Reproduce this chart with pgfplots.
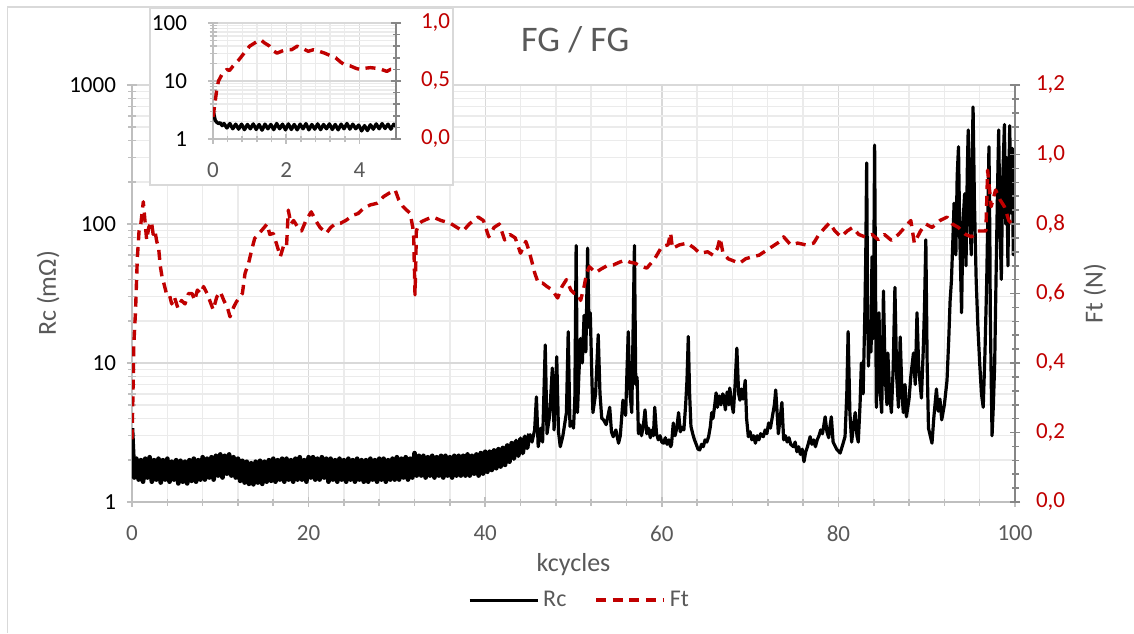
\documentclass[border=0pt]{standalone}
\usepackage{fontspec}
\setmainfont{Carlito}
\usepackage{pgfplots}
\pgfplotsset{compat=1.18}
\pgfplotsset{/pgf/number format/assume math mode=true}
\definecolor{ftred}{HTML}{C00000}
\definecolor{txtgray}{HTML}{595959}
\definecolor{gridc}{HTML}{D9D9D9}
\definecolor{gridm}{HTML}{EBEBEB}
\definecolor{axisc}{HTML}{BFBFBF}
\definecolor{axisr}{HTML}{868686}
\pgfplotsset{
  commonax/.style={
    scale only axis,
    tick align=center,
    major tick length=5pt,
    minor tick length=3.5pt,
    ticklabel style={font=\fontsize{11.5}{13}\selectfont},
    xticklabel style={yshift=-6pt},
  },
}
\begin{document}
\begin{tikzpicture}
\useasboundingbox (0pt,0pt) rectangle (567pt,316.5pt);
\draw[gridc, line width=0.7pt] (3.75pt,0pt) -- (3.75pt,313pt) -- (567pt,313pt);
% ---------------- main axis, left
\begin{axis}[commonax,
  at={(66pt,65.5pt)}, anchor=south west, width=441.5pt, height=208.5pt,
  xmin=0, xmax=100, ymode=log, ymin=1, ymax=1000,
  axis x line*=bottom, axis y line*=left,
  axis line style={axisc, line width=0.8pt},
  tick style={axisc, line width=0.8pt},
  xtick={0,20,40,60,80,100}, minor x tick num=4,
  grid=both,
  major grid style={gridc, line width=0.7pt},
  minor grid style={gridm, line width=0.7pt},
  log ticks with fixed point, /pgf/number format/1000 sep={},
  xticklabel style={txtgray},
  yticklabel style={black, xshift=-2pt},
  xlabel={kcycles}, ylabel={Rc (mΩ)},
  label style={font=\fontsize{13}{15}\selectfont, text=txtgray},
  xlabel style={at={(axis description cs:0.5,-0.151)}, anchor=center},
  ylabel style={at={(axis description cs:-0.095,0.5)}, anchor=center},
  title={FG / FG},
  title style={at={(axis description cs:0.502,1.079)}, anchor=center, font=\fontsize{18}{20}\selectfont, text=txtgray},
]
% low, noisy part of Rc (0-45 kcycles)
\addplot[black, line width=2.3pt, line join=round] table {
0 3.4
0.08 2.6
0.15 2.1
0.25 1.5
0.5 2.05
0.75 1.45
1.0 2.0
1.25 1.4
1.5 2.05
1.75 1.5
2.0 2.1
2.25 1.4
2.5 2.0
2.75 1.45
3.0 2.05
3.25 1.38
3.5 2.0
3.75 1.45
4.0 2.05
4.25 1.4
4.5 1.95
4.75 1.45
5.0 2.0
5.25 1.36
5.5 1.98
5.75 1.4
6.0 1.95
6.25 1.36
6.5 2.0
6.75 1.42
7.0 2.05
7.25 1.4
7.5 2.0
7.75 1.45
8.0 2.1
8.25 1.45
8.5 2.05
8.75 1.5
9.0 2.1
9.25 1.45
9.5 2.15
9.75 1.55
10.0 2.2
10.25 1.5
10.5 2.15
10.75 1.6
11.0 2.2
11.25 1.55
11.5 2.1
11.75 1.5
12.0 2.05
12.25 1.42
12.5 1.98
12.75 1.38
13.0 1.95
13.25 1.35
13.5 1.9
13.75 1.34
14.0 1.95
14.25 1.38
14.5 1.98
14.75 1.35
15.0 1.95
15.25 1.4
15.5 2.0
15.75 1.42
16.0 2.05
16.25 1.4
16.5 2.0
16.75 1.45
17.0 2.05
17.25 1.4
17.5 2.05
17.75 1.45
18.0 2.0
18.25 1.4
18.5 2.05
18.75 1.45
19.0 2.1
19.25 1.45
19.5 2.0
19.75 1.4
20.0 2.1
20.25 1.5
20.5 2.1
20.75 1.45
21.0 2.05
21.25 1.45
21.5 2.1
21.75 1.5
22.0 2.05
22.25 1.4
22.5 2.05
22.75 1.45
23.0 2.0
23.25 1.4
23.5 2.05
23.75 1.45
24.0 2.0
24.25 1.4
24.5 2.05
24.75 1.45
25.0 2.0
25.25 1.4
25.5 2.05
25.75 1.45
26.0 2.0
26.25 1.4
26.5 2.0
26.75 1.4
27.0 2.05
27.25 1.45
27.5 2.0
27.75 1.4
28.0 2.05
28.25 1.45
28.5 2.05
28.75 1.4
29.0 2.0
29.25 1.45
29.5 2.05
29.75 1.45
30.0 2.1
30.25 1.45
30.5 2.05
30.75 1.5
31.0 2.1
31.25 1.45
31.5 2.05
31.75 1.5
32.0 2.25
32.25 1.55
32.5 2.15
32.75 1.55
33.0 2.15
33.25 1.5
33.5 2.1
33.75 1.55
34.0 2.15
34.25 1.5
34.5 2.1
34.75 1.55
35.0 2.15
35.25 1.5
35.5 2.15
35.75 1.55
36.0 2.1
36.25 1.5
36.5 2.15
36.75 1.55
37.0 2.15
37.25 1.55
37.5 2.15
37.75 1.55
38.0 2.2
38.25 1.55
38.5 2.15
38.75 1.6
39.0 2.2
39.25 1.55
39.5 2.25
39.75 1.6
40.0 2.3
40.25 1.65
40.5 2.3
40.75 1.7
41.0 2.35
41.25 1.75
41.5 2.4
41.75 1.8
42.0 2.45
42.25 1.85
42.5 2.55
42.75 1.95
43.0 2.65
43.25 2.05
43.5 2.75
43.75 2.15
44.0 2.85
44.25 2.25
44.5 2.95
44.75 2.45
45.0 3.1
};
% spiky part of Rc (45-100 kcycles)
\addplot[black, line width=1.6pt, line join=round] table {
45.0 3.1
45.3 2.7
45.6 3.3
45.8 5.7
46.0 2.5
46.3 3.4
46.5 2.7
46.8 13.5
47.0 3.1
47.3 4.2
47.6 9.2
47.8 3.3
48.1 11.1
48.3 3.2
48.5 2.5
48.8 3.0
49.2 4.4
49.4 16.8
49.6 3.5
49.8 3.8
50.0 3.4
50.15 5.5
50.3 70
50.45 4.4
50.6 8
50.8 15
51.0 10
51.2 22
51.4 12
51.6 67
51.75 18
51.9 23
52.1 7
52.2 4.4
52.5 6
52.8 16
53.0 6
53.2 4.0
53.4 3.9
53.7 3.6
54.1 4.8
54.3 3.2
54.5 2.95
54.8 3.3
55.1 2.65
55.3 3.0
55.6 5.4
55.9 4.2
56.2 16.8
56.4 6
56.6 4.4
56.9 70
57.05 7
57.2 7.9
57.35 3.1
57.5 3.6
57.7 3.0
57.9 3.5
58.1 4.6
58.3 3.1
58.5 3.4
58.7 2.9
58.9 3.3
59.05 3.0
59.2 4.8
59.4 3.1
59.6 2.8
59.8 3.0
60.0 2.7
60.2 2.65
60.4 2.9
60.6 2.6
60.8 2.8
61.0 2.5
61.1 2.6
61.3 3.7
61.5 3.0
61.7 3.4
61.9 4.4
62.1 3.2
62.3 3.45
62.5 3.3
62.7 5
62.85 7.5
63.0 15.5
63.15 6
63.3 3.5
63.5 3.1
63.7 2.8
63.9 2.6
64.1 2.4
64.3 2.37
64.5 2.6
64.7 2.5
64.9 2.8
65.1 2.7
65.3 2.95
65.5 3.5
65.65 4.4
65.8 4.0
66.0 5
66.15 6.1
66.3 4.8
66.5 5.8
66.7 5.0
66.9 6.0
67.0 5.8
67.2 4.6
67.4 6.2
67.6 5.0
67.7 6.6
67.9 5.2
68.1 4.4
68.3 7
68.5 12.8
68.7 6
68.85 5.4
69.0 6.5
69.2 5.5
69.45 7.5
69.6 4
69.8 2.95
70.0 3.2
70.2 2.8
70.4 3.0
70.6 2.65
70.8 3.0
71.0 2.8
71.2 3.1
71.5 2.95
71.7 3.3
71.9 3.1
72.1 3.7
72.3 3.4
72.6 4.4
72.75 5
72.9 6.4
73.05 4.5
73.2 3.1
73.4 4
73.6 5.2
73.8 2.8
74.0 3.0
74.2 2.7
74.4 2.9
74.6 2.6
74.9 2.5
75.1 2.7
75.3 2.3
75.5 2.5
75.7 2.2
75.9 2.4
76.1 1.95
76.3 2.3
76.5 2.5
76.8 2.95
77.0 2.6
77.2 2.8
77.4 2.5
77.6 2.8
77.8 3.0
78.0 3.3
78.2 3.1
78.5 4.1
78.7 3.2
78.9 2.9
79.05 3.5
79.2 4.1
79.4 2.7
79.8 2.4
80.2 2.25
80.5 2.6
80.75 2.95
80.95 6
81.1 16.8
81.3 4.4
81.5 2.7
81.7 3.5
81.9 4.4
82.1 3.0
82.25 2.7
82.45 5
82.6 10
82.8 6
83.0 24
83.1 60
83.2 275
83.3 30
83.4 9.5
83.55 20
83.7 12
83.8 58
83.95 15
84.1 370
84.2 40
84.3 4.8
84.45 12
84.6 23
84.75 6
84.9 4.4
85.0 10
85.1 33
85.3 8
85.5 5
85.6 11.8
85.8 6
86.0 4.4
86.2 9
86.4 35
86.6 8
86.8 4.8
87.0 15.4
87.2 6
87.35 4.4
87.55 7
87.7 4.1
88.0 5.5
88.2 8
88.5 11.8
88.7 7
88.9 23
89.1 9
89.4 5.6
89.6 12
89.75 25
89.9 77
90.05 10
90.2 3.4
90.4 3.0
90.6 2.65
90.8 4
91.1 6.5
91.3 4.5
91.5 5.5
91.7 3.9
92.0 5
92.3 7.5
92.5 15
92.65 28
92.8 39
93.0 90
93.1 141
93.3 60
93.45 220
93.6 360
93.75 80
93.95 23
94.1 100
94.3 165
94.45 50
94.6 250
94.7 475
94.85 120
95.05 60
95.15 300
95.25 695
95.4 150
95.6 40
95.8 18
96.0 10
96.2 6
96.4 4.8
96.6 12
96.8 40
96.95 150
97.05 360
97.15 80
97.2 23
97.3 8
97.4 3.0
97.55 5
97.7 10
97.85 40
98.0 150
98.15 475
98.3 100
98.45 40
98.6 200
98.8 520
98.95 100
99.05 300
99.2 50
99.3 200
99.4 510
99.55 120
99.7 350
99.8 60
99.9 200
100 150
};
\end{axis}
% ---------------- main axis, right
\begin{axis}[commonax,
  at={(66pt,65.5pt)}, anchor=south west, width=441.5pt, height=208.5pt,
  xmin=0, xmax=100, ymin=0, ymax=1.2,
  axis x line=none, axis y line*=right,
  axis line style={axisr, line width=0.8pt},
  tick style={axisr, line width=0.8pt},
  ytick={0,0.2,0.4,0.6,0.8,1.0,1.2}, minor y tick num=4,
  yticklabel style={ftred, xshift=4.5pt, /pgf/number format/.cd, fixed, fixed zerofill, precision=1, use comma},
  ylabel={Ft (N)},
  label style={font=\fontsize{13}{15}\selectfont, text=txtgray},
  ylabel style={at={(axis description cs:1.0906,0.5)}, anchor=center},
  legend style={at={(axis description cs:0.508,-0.235)}, anchor=center, draw=none, fill=none,
    legend columns=2, font=\fontsize{12}{14}\selectfont, text=txtgray,
    /tikz/every even column/.append style={column sep=12pt}},
  legend image code/.code={\draw[#1] (0pt,0pt) -- (34pt,0pt);},
]
\addlegendimage{black, line width=1.5pt}
\addlegendentry{Rc}
\addplot[ftred, line width=1.7pt, dash pattern=on 5pt off 3.3pt, line join=round] table {
0 0.18
0.1 0.3
0.2 0.45
0.4 0.55
0.6 0.7
0.8 0.78
1.0 0.8
1.28 0.864
1.5 0.8
1.66 0.754
1.9 0.79
2.2 0.807
2.4 0.77
2.6 0.78
2.8 0.75
3.0 0.735
3.2 0.68
3.4 0.648
3.6 0.63
3.9 0.6
4.2 0.6
4.5 0.57
4.8 0.59
5.2 0.558
5.6 0.58
6.0 0.57
6.4 0.6
6.8 0.60
7.1 0.58
7.4 0.61
7.8 0.6
8.1 0.62
8.5 0.6
8.8 0.58
9.2 0.553
9.6 0.59
10.0 0.605
10.4 0.58
10.8 0.56
11.1 0.533
11.5 0.56
11.8 0.575
12.2 0.59
12.5 0.6
12.8 0.658
13.2 0.687
13.6 0.73
13.9 0.759
14.3 0.77
14.9 0.788
15.3 0.8
15.6 0.77
16.0 0.773
16.4 0.74
16.8 0.706
17.2 0.74
17.5 0.735
17.7 0.84
18.0 0.8
18.3 0.81
18.8 0.79
19.2 0.78
19.7 0.81
20.3 0.835
20.8 0.81
21.3 0.79
22.0 0.773
22.5 0.79
23.0 0.8
23.6 0.802
24.2 0.81
25.1 0.826
25.6 0.83
26.2 0.845
27.0 0.855
27.8 0.86
28.5 0.879
29.2 0.89
29.8 0.898
30.2 0.87
30.7 0.85
31.1 0.84
31.5 0.831
31.8 0.79
31.9 0.763
32.05 0.596
32.15 0.7
32.2 0.78
32.5 0.8
32.8 0.807
33.5 0.815
34.1 0.82
35.0 0.81
36.0 0.803
36.8 0.79
37.5 0.78
38.2 0.8
39.2 0.82
39.8 0.81
40.4 0.763
41.0 0.79
41.6 0.8
42.2 0.754
42.8 0.77
43.4 0.76
44.0 0.716
44.6 0.75
45.0 0.72
45.6 0.66
46.0 0.63
46.5 0.63
47.0 0.62
47.6 0.61
48.2 0.587
48.7 0.62
49.2 0.64
49.7 0.61
50.1 0.6
50.5 0.6
50.8 0.58
51.2 0.62
51.5 0.66
51.8 0.677
52.5 0.66
53.1 0.67
53.8 0.68
54.5 0.682
55.2 0.69
55.9 0.696
56.4 0.69
57.0 0.687
57.5 0.68
58.3 0.673
59.2 0.7
60.0 0.735
60.7 0.74
61.0 0.774
61.2 0.73
62.0 0.74
62.9 0.745
63.7 0.73
64.3 0.716
65.2 0.72
65.8 0.71
66.3 0.73
66.6 0.76
66.9 0.72
67.5 0.70
68.8 0.687
69.5 0.7
70.3 0.706
71.0 0.71
71.9 0.725
72.8 0.74
73.4 0.75
73.8 0.763
74.6 0.74
75.4 0.745
76.3 0.74
77.2 0.745
77.8 0.77
78.5 0.79
79.0 0.803
79.6 0.78
80.3 0.763
81.0 0.78
81.6 0.79
82.3 0.77
83.0 0.763
83.8 0.77
84.5 0.755
85.2 0.77
86.0 0.753
86.8 0.77
87.5 0.79
88.2 0.81
88.6 0.745
89.3 0.78
89.9 0.80
90.6 0.79
91.5 0.81
92.3 0.82
92.9 0.80
93.6 0.79
94.4 0.77
95.1 0.763
95.7 0.78
96.3 0.78
96.7 0.78
96.9 0.955
97.3 0.85
97.8 0.898
98.3 0.87
98.8 0.85
99.3 0.81
99.7 0.80
100 0.79
};
\addlegendentry{Ft}
\end{axis}
% ---------------- inset box
\filldraw[fill=white, draw=gridc, line width=0.7pt] (75pt,224pt) rectangle (226.5pt,312.5pt);
% ---------------- inset, left
\begin{axis}[commonax,
  at={(106.5pt,247pt)}, anchor=south west, width=91.5pt, height=58pt,
  xmin=0, xmax=5, ymode=log, ymin=1, ymax=100,
  axis x line*=bottom, axis y line*=left,
  axis line style={axisc, line width=0.8pt},
  tick style={axisc, line width=0.8pt},
  xtick={0,2,4}, minor x tick num=4,
  grid=both,
  major grid style={gridc, line width=0.7pt},
  minor grid style={gridm, line width=0.7pt},
  log ticks with fixed point, /pgf/number format/1000 sep={},
  xticklabel style={txtgray},
  yticklabel style={black, xshift=-7pt},
]
\addplot[black, line width=1.7pt, line join=round] table {
0 3.3
0.03 2.6
0.06 2.1
0.1 1.95
0.15 1.85
0.2 1.9
0.25 1.7
0.3 1.85
0.38 1.55
0.46 1.85
0.54 1.5
0.62 1.8
0.7 1.48
0.78 1.8
0.86 1.45
0.94 1.78
1.02 1.5
1.1 1.82
1.18 1.46
1.26 1.78
1.34 1.42
1.42 1.8
1.5 1.5
1.58 1.78
1.66 1.45
1.74 1.85
1.82 1.5
1.9 1.8
1.98 1.44
2.06 1.82
2.14 1.46
2.22 1.78
2.3 1.44
2.38 1.8
2.46 1.5
2.54 1.84
2.62 1.44
2.7 1.78
2.78 1.48
2.86 1.82
2.94 1.45
3.02 1.78
3.1 1.5
3.18 1.82
3.26 1.46
3.34 1.78
3.42 1.44
3.5 1.8
3.58 1.5
3.66 1.85
3.74 1.48
3.82 1.8
3.9 1.5
3.98 1.74
4.06 1.38
4.14 1.7
4.22 1.4
4.3 1.76
4.38 1.48
4.46 1.82
4.54 1.5
4.62 1.84
4.7 1.52
4.78 1.8
4.86 1.48
4.94 1.8
5.0 1.65
};
\end{axis}
% ---------------- inset, right
\begin{axis}[commonax,
  at={(106.5pt,247pt)}, anchor=south west, width=91.5pt, height=58pt,
  xmin=0, xmax=5, ymin=0, ymax=1,
  axis x line=none, axis y line*=right,
  axis line style={axisr, line width=0.8pt},
  tick style={axisr, line width=0.8pt},
  ytick={0,0.5,1}, minor y tick num=4,
  yticklabel style={ftred, xshift=6.5pt, /pgf/number format/.cd, fixed, fixed zerofill, precision=1, use comma},
]
\addplot[ftred, line width=1.7pt, dash pattern=on 5pt off 3.3pt, line join=round] table {
0 0.19
0.05 0.3
0.1 0.42
0.15 0.5
0.25 0.56
0.38 0.6
0.45 0.59
0.55 0.63
0.7 0.68
0.85 0.74
1.0 0.8
1.1 0.82
1.2 0.84
1.3 0.856
1.4 0.83
1.55 0.8
1.65 0.76
1.75 0.74
1.9 0.76
2.0 0.77
2.15 0.77
2.3 0.8
2.45 0.78
2.6 0.756
2.75 0.77
2.9 0.756
3.05 0.74
3.2 0.72
3.35 0.7
3.5 0.66
3.6 0.64
3.75 0.63
3.9 0.61
4.0 0.6
4.15 0.61
4.3 0.615
4.45 0.61
4.6 0.6
4.75 0.583
4.85 0.6
5.0 0.6
};
\end{axis}
\end{tikzpicture}
\end{document}
